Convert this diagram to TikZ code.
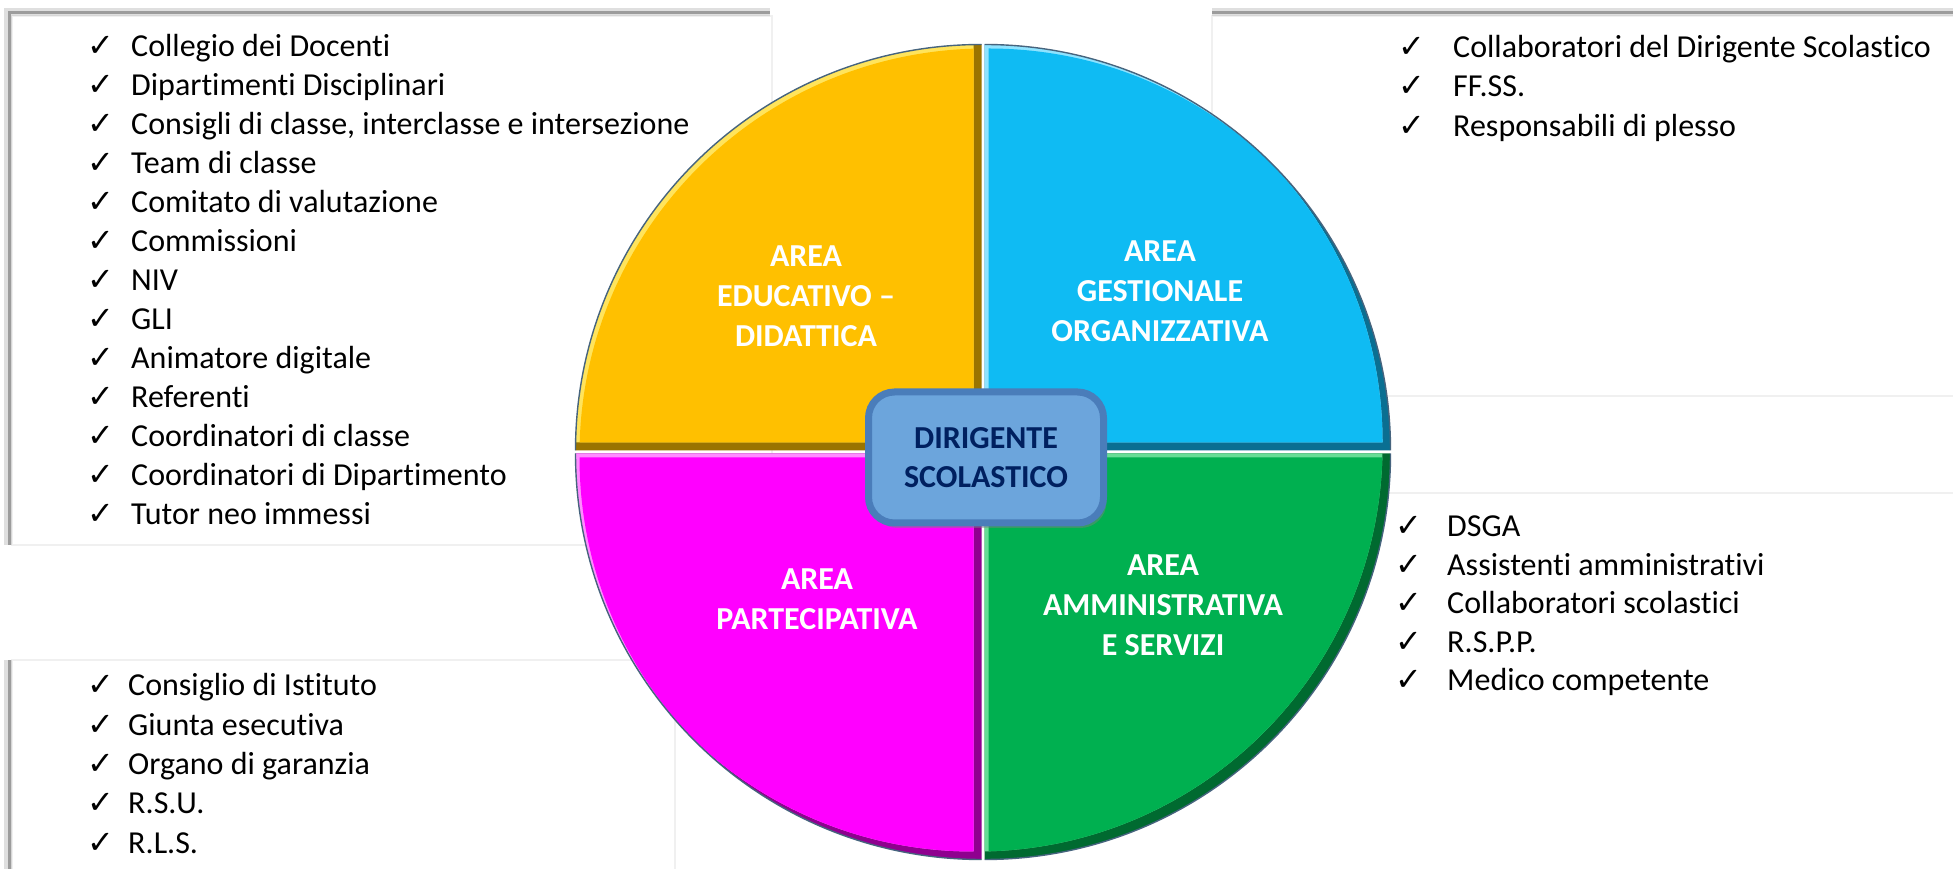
\documentclass[tikz,border=0pt]{standalone}
\usepackage{fontspec}
\setmainfont{Carlito}[Ligatures={NoCommon,NoContextual},Contextuals=NoAlternate]
\newfontfamily\symfont{DejaVu Sans}
\usetikzlibrary{shadows}
\definecolor{qyel}{HTML}{FFC000}
\definecolor{qyeld}{HTML}{9A7400}
\definecolor{qyell}{HTML}{FFE45C}
\definecolor{qblu}{HTML}{0FBBF3}
\definecolor{qblud}{HTML}{0A6F92}
\definecolor{qblul}{HTML}{8FE3FF}
\definecolor{qmag}{HTML}{FF00FF}
\definecolor{qmagd}{HTML}{8F008F}
\definecolor{qmagl}{HTML}{FF8CFF}
\definecolor{qgrn}{HTML}{00B050}
\definecolor{qgrnd}{HTML}{006A30}
\definecolor{qgrnl}{HTML}{66DD95}
\definecolor{dsfill}{HTML}{6CA5DC}
\definecolor{dsedge}{HTML}{4A7DBA}
\definecolor{dstext}{HTML}{002060}
\definecolor{rimcol}{HTML}{46647E}
\def\cx{983}
\def\cy{417}
\def\R{406}
\newcommand{\chk}{{\symfont\bfseries\fontsize{32}{32}\selectfont ✓}}
\newcommand{\Quad}[4]{%
\begin{scope}[shift={(#1,#2)}]
  \begin{scope}
    \clip (\cx,\cy) -- ++(#3:\R) arc[start angle=#3,delta angle=90,radius=\R] -- cycle;
    \fill[#4d] (\cx,\cy) -- ++(#3:\R) arc[start angle=#3,delta angle=90,radius=\R] -- cycle;
    \fill[#4l] (\cx-8,\cy+8) -- ++(#3:\R) arc[start angle=#3,delta angle=90,radius=\R] -- cycle;
    \begin{scope}
      \clip (\cx-8,\cy+8) -- ++(#3:\R) arc[start angle=#3,delta angle=90,radius=\R] -- cycle;
      \fill[#4] (\cx+4,\cy-4) -- ++(#3:\R) arc[start angle=#3,delta angle=90,radius=\R] -- cycle;
    \end{scope}
  \end{scope}
  \draw[rim] (\cx,\cy) ++(#3:\R) arc[start angle=#3,delta angle=90,radius=\R];
\end{scope}}
\tikzset{
  listitem/.style={anchor=base west, inner sep=0pt, font=\fontsize{32}{39}\selectfont, text=black},
  arealabel/.style={align=center, text=white, inner sep=0pt, font=\fontsize{32}{40}\selectfont\bfseries},
  centerbox/.style={draw=dsedge, line width=7pt, fill=dsfill, rounded corners=26pt,
    minimum width=235pt, minimum height=131pt, align=center, text=dstext, inner sep=0pt,
    font=\fontsize{32}{39}\selectfont\bfseries,
    drop shadow={shadow xshift=3pt, shadow yshift=-5pt, opacity=0.45}},
  rim/.style={draw=rimcol, line width=1.4pt},
  boxfill/.style={fill=white},
  faintedge/.style={draw=black!6, line width=1.5pt},
  shadowA/.style={draw=black!45, line width=3pt, opacity=0.8},
  shadowB/.style={draw=black!35, line width=8pt, opacity=0.35},
}
\begin{document}
\begin{tikzpicture}[x=1pt,y=1pt]
\useasboundingbox (0,0) rectangle (1953,869);
\fill[white] (0,0) rectangle (1953,869);
% list boxes
\filldraw[boxfill, faintedge] (12,324) rectangle (772,853);
\draw[shadowB] (8,324) -- (8,857) -- (770,857);
\draw[shadowA] (9,324) -- (9,856) -- (770,856);
\filldraw[boxfill, faintedge] (1212,473) rectangle (1960,853);
\draw[shadowB] (1212,857) -- (1960,857);
\draw[shadowA] (1212,856) -- (1960,856);
\draw[faintedge] (1385,376) -- (1960,376);
\filldraw[boxfill, faintedge] (12,-10) rectangle (675,209);
\draw[shadowB] (8,-10) -- (8,209);
\draw[shadowA] (9,-10) -- (9,209);
% lists
\foreach \t [count=\i] in {Collegio dei Docenti, Dipartimenti Disciplinari,
  {Consigli di classe, interclasse e intersezione}, Team di classe,
  Comitato di valutazione, Commissioni, NIV, GLI, Animatore digitale, Referenti,
  Coordinatori di classe, Coordinatori di Dipartimento, Tutor neo immessi}
  \node[listitem] (tl\i) at (87,851-39*\i) {\makebox[44pt][l]{\chk}\t};
\foreach \t [count=\i] in {Collaboratori del Dirigente Scolastico, FF.SS., Responsabili di plesso}
  \node[listitem] (tr\i) at (1398,851-39.5*\i) {\makebox[55pt][l]{\chk}\t};
\foreach \t [count=\i] in {DSGA, Assistenti amministrativi, Collaboratori scolastici, R.S.P.P., Medico competente}
  \node[listitem] (br\i) at (1395,370.5-38.5*\i) {\makebox[52pt][l]{\chk}\t};
\foreach \t [count=\i] in {Consiglio di Istituto, Giunta esecutiva, Organo di garanzia, R.S.U., R.L.S.}
  \node[listitem] (bl\i) at (87,212.3-39.3*\i) {\makebox[41pt][l]{\chk}\t};
% circle quadrants
\Quad{-1.5}{1.5}{90}{qyel}
\Quad{1.5}{1.5}{0}{qblu}
\Quad{1.5}{-1.5}{-90}{qgrn}
\Quad{-1.5}{-1.5}{180}{qmag}
% labels
\node[arealabel] (edu) at (806,573) {AREA\\EDUCATIVO –\\DIDATTICA};
\node[arealabel] (ges) at (1160,578) {AREA\\GESTIONALE\\ORGANIZZATIVA};
\node[arealabel] (par) at (817,270) {AREA\\PARTECIPATIVA};
\node[arealabel] (amm) at (1163,264) {AREA\\AMMINISTRATIVA\\E SERVIZI};
% centre
\node[centerbox] (ds) at (986,411.5) {DIRIGENTE\\SCOLASTICO};
\end{tikzpicture}
\end{document}
